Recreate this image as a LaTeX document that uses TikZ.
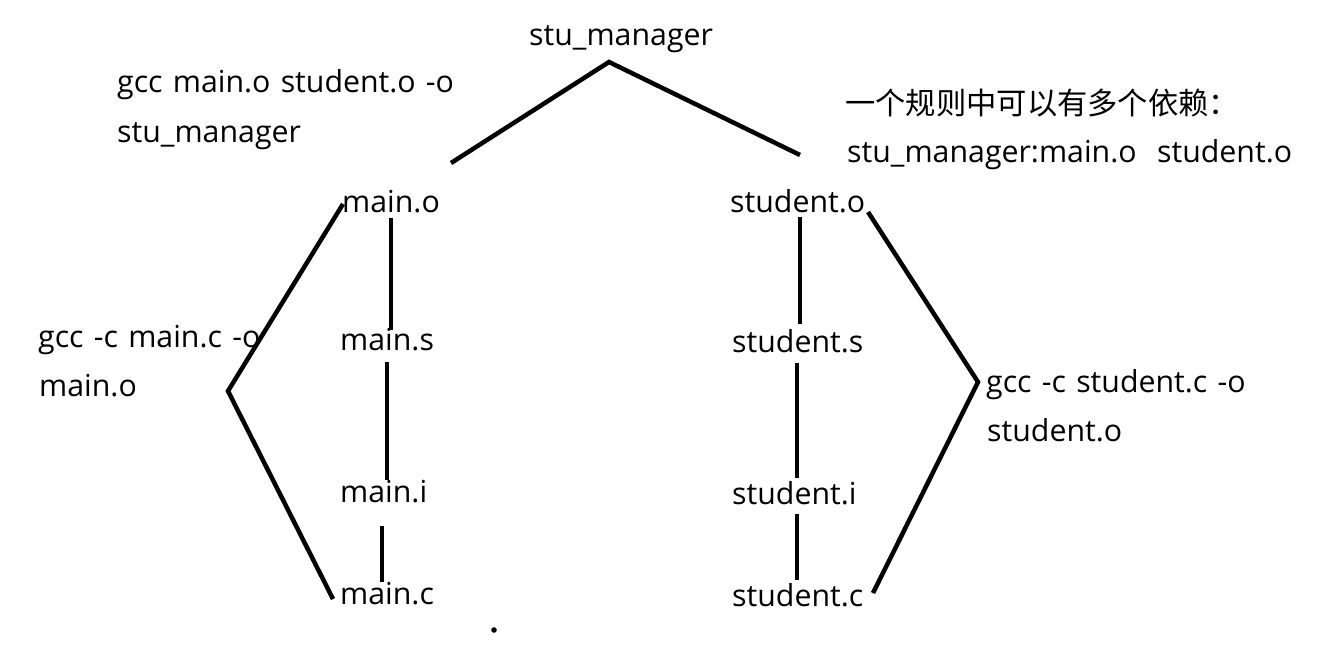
\documentclass[tikz,border=0pt]{standalone}
\usepackage{fontspec}
\setmainfont{Open Sans}[WordSpace=1.3]
\newfontfamily\cjk{Noto Sans CJK SC}
\begin{document}
\begin{tikzpicture}[x=1pt,y=-1pt,
  lbl/.style={anchor=base west,inner sep=0pt,font=\fontsize{30.3}{36}\selectfont},
  conn/.style={line width=4.5pt,line cap=butt,line join=miter}]
\useasboundingbox[fill=white] (0,0) rectangle (1318,648);
% labels
\node[lbl] (top) at (529,45) {stu\_manager};
\node[lbl] (cmd1) at (117,92) {gcc main.o student.o -o};
\node[lbl] (cmd1b) at (117,142) {stu\_manager};
\node[lbl] (note1) at (845,114) {\cjk 一个规则中可以有多个依赖：};
\node[lbl] (note2) at (847,162) {stu\_manager:main.o\ \ student.o};
\node[lbl] (mo) at (342,212) {main.o};
\node[lbl] (so) at (730,212) {student.o};
\node[lbl] (cmd2) at (38,347) {gcc -c main.c -o};
\node[lbl] (cmd2b) at (39,396) {main.o};
\node[lbl] (ms) at (340,350) {main.s};
\node[lbl] (ss) at (732,352) {student.s};
\node[lbl] (cmd3) at (986,392) {gcc -c student.c -o};
\node[lbl] (cmd3b) at (987,441) {student.o};
\node[lbl] (mi) at (340,502) {main.i};
\node[lbl] (si) at (732,504) {student.i};
\node[lbl] (mc) at (340,604) {main.c};
\node[lbl] (sc) at (732,606) {student.c};
% connector points
\coordinate (tl) at (451,163);
\coordinate (ta) at (609,62);
\coordinate (tr) at (800,155);
\coordinate (lt) at (343,204);
\coordinate (lv) at (228,391);
\coordinate (lb) at (333,599);
\coordinate (rt) at (868,212);
\coordinate (rv) at (978,382);
\coordinate (rb) at (873,593);
\coordinate (m1a) at (391,218); \coordinate (m1b) at (391,330);
\coordinate (m2a) at (387,362); \coordinate (m2b) at (387,480);
\coordinate (m3a) at (382,526); \coordinate (m3b) at (382,582);
\coordinate (s1a) at (800,217); \coordinate (s1b) at (800,324);
\coordinate (s2a) at (797,363); \coordinate (s2b) at (797,478);
\coordinate (s3a) at (797,514); \coordinate (s3b) at (797,580);
\coordinate (dot) at (494,630);
% connectors
\draw[conn] (tl) -- (ta) -- (tr);
\draw[conn] (lt) -- (lv) -- (lb);
\draw[conn] (rt) -- (rv) -- (rb);
\draw[conn] (m1a) -- (m1b);
\draw[conn] (m2a) -- (m2b);
\draw[conn] (m3a) -- (m3b);
\draw[conn] (s1a) -- (s1b);
\draw[conn] (s2a) -- (s2b);
\draw[conn] (s3a) -- (s3b);
\fill (dot) circle (2.8);
\end{tikzpicture}
\end{document}
